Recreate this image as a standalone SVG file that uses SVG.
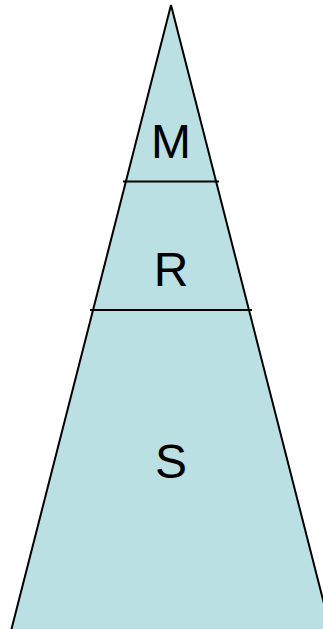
<svg xmlns="http://www.w3.org/2000/svg" width="323" height="629" viewBox="0 0 323 629">
<style>
.shape{fill:#BBE0E3;stroke:#000;stroke-width:2}
.div{stroke:#000;stroke-width:2;fill:none}
.lbl{font-family:"Liberation Sans",Arial,sans-serif;font-size:48px;fill:#000;text-anchor:middle}
</style>
<rect width="323" height="629" fill="#fff"/>
<g id="pyramid">
<polygon class="shape" points="171,5 11,631 331,631"/>
</g>
<g id="connectors">
<line class="div" x1="123" y1="181.5" x2="219" y2="181.5"/>
<line class="div" x1="90" y1="310" x2="252" y2="310"/>
</g>
<g id="node-M"><text class="lbl" x="171" y="157.5">M</text></g>
<g id="node-R"><text class="lbl" x="171" y="286">R</text></g>
<g id="node-S"><text class="lbl" x="171" y="478">S</text></g>
</svg>
